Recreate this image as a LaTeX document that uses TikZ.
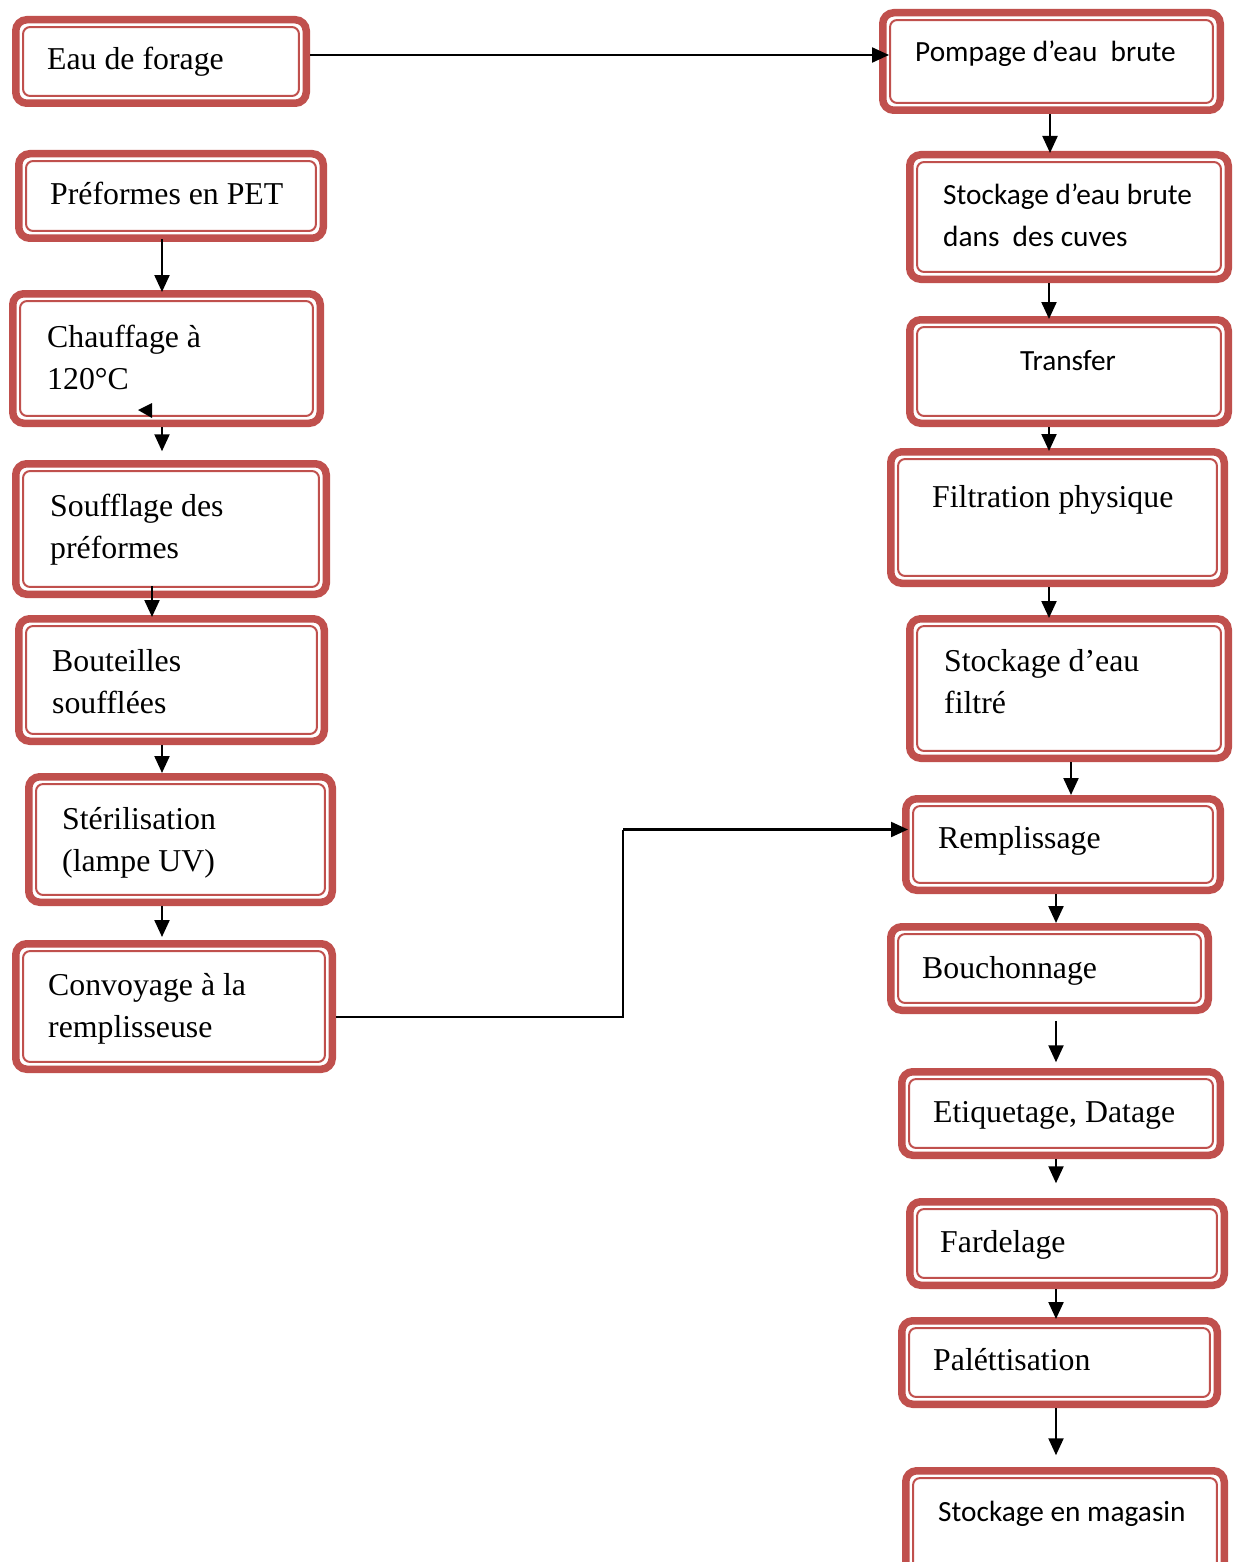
\documentclass[tikz,border=0pt]{standalone}
\usepackage{fontspec}
\setmainfont{Liberation Serif}
\newfontfamily\calfont{Carlito}
\usetikzlibrary{arrows.meta}
\definecolor{bred}{HTML}{C0504D}
\newcommand\twol[2]{\begin{tabular}[t]{@{}l@{}}#1\\#2\end{tabular}}
\newcommand\bx[5]{\node[bx, minimum width={#4pt-#2pt-7.5pt}, minimum height={#5pt-#3pt-7.5pt}] (#1) at ({(#2+#4)/2},{(#3+#5)/2}) {};}
\tikzset{
 bx/.style={draw=bred, line width=7.5pt, rounded corners=11pt, inner sep=0pt, fill=white,
   path picture={\draw[bred, line width=2pt, rounded corners=7pt]
     ([xshift=7.3pt,yshift=7.3pt]path picture bounding box.south west) rectangle
     ([xshift=-7.3pt,yshift=-7.3pt]path picture bounding box.north east);}},
 sr/.style={anchor=base west, inner sep=0pt, font=\fontsize{31.8}{42}\selectfont},
 ca/.style={anchor=base west, inner sep=0pt, font=\calfont\fontsize{29.3}{42}\selectfont},
 arr/.style={line width=2.2pt, -{Triangle[length=17pt,width=15pt]}},
}
\begin{document}
\begin{tikzpicture}[x=1pt,y=-1pt]
\useasboundingbox (0,0) rectangle (1240,1562);
\fill[white] (0,0) rectangle (1240,1562);
\clip (0,0) rectangle (1240,1562);
% left column boxes
\bx{eau}{12}{16}{310}{107}
\bx{pref}{15}{150}{327}{242}
\bx{chauf}{9}{290}{324}{427}
\bx{souf}{12}{460}{330}{598}
\bx{bout}{15}{615}{328}{745}
\bx{ster}{25}{773}{336}{906}
\bx{conv}{12}{940}{336}{1073}
% right column boxes
\bx{pomp}{879}{9}{1224}{114}
\bx{stb}{906}{151}{1232}{283}
\bx{trans}{906}{316}{1232}{427}
\bx{filt}{887}{448}{1228}{587}
\bx{stf}{906}{615}{1232}{762}
\bx{remp}{902}{795}{1224}{894}
\bx{bouch}{887}{923}{1212}{1014}
\bx{etiq}{898}{1068}{1224}{1159}
\bx{fard}{906}{1198}{1228}{1289}
\bx{pal}{898}{1317}{1221}{1408}
\bx{mag}{902}{1467}{1228}{1585}
% texts
\node[sr] (eauT) at (47,70) {Eau de forage};
\node[sr] (prefT) at (50,205) {Préformes en PET};
\node[sr] (chaufT) at (47,347) {\twol{Chauffage à}{120°C}};
\node[sr] (soufT) at (50,516) {\twol{Soufflage des}{préformes}};
\node[sr] (boutT) at (52,671) {\twol{Bouteilles}{soufflées}};
\node[sr] (sterT) at (62,829) {\twol{Stérilisation}{(lampe UV)}};
\node[sr] (convT) at (48,995) {\twol{Convoyage à la}{remplisseuse}};
\node[ca] (pompT) at (915,62) {Pompage d’eau\ \ brute};
\node[ca] (stbT) at (943,205) {\twol{Stockage d’eau brute}{dans\ \ des cuves}};
\node[ca] (transT) at (1020,370) {Transfer};
\node[sr] (filtT) at (932,507) {Filtration physique};
\node[sr] (stfT) at (944,671) {\twol{Stockage d’eau}{filtré}};
\node[sr] (rempT) at (938,848) {Remplissage};
\node[sr] (bouchT) at (922,978) {Bouchonnage};
\node[sr] (etiqT) at (933,1122) {Etiquetage, Datage};
\node[sr] (fardT) at (940,1252) {Fardelage};
\node[sr] (palT) at (933,1370) {Paléttisation};
\node[ca] (magT) at (938,1521) {Stockage en magasin};
% connectors left
\draw[arr, shorten <=-3pt, shorten >=-2pt] (162,0 |- pref.south) -- (162,0 |- chauf.north);
\draw[arr, shorten >=8.75pt] (162,0 |- chauf.south) -- (162,0 |- souf.north);
\draw[arr, shorten <=-12pt, shorten >=-2pt] (152,0 |- souf.south) -- (152,0 |- bout.north);
\draw[arr] (162,0 |- bout.south) -- (162,0 |- ster.north);
\draw[arr, shorten >=3pt] (162,0 |- ster.south) -- (162,0 |- conv.north);
\fill (138,410) -- (152,403) -- (152,418) -- cycle;
% connectors right
\draw[arr, shorten >=-10pt] ([yshift=6.5pt]eau.east) -- ([yshift=6.5pt]pomp.west);
\draw[arr, shorten >=-2pt] (1050,0 |- pomp.south) -- (1050,0 |- stb.north);
\draw[arr, shorten >=-3pt] (1049,0 |- stb.south) -- (1049,0 |- trans.north);
\draw[arr, shorten >=-3pt] (1049,0 |- trans.south) -- (1049,0 |- filt.north);
\draw[arr, shorten >=-3pt] (1049,0 |- filt.south) -- (1049,0 |- stf.north);
\draw[arr] (1071,0 |- stf.south) -- (1071,0 |- remp.north);
\draw[arr] (1056,0 |- remp.south) -- (1056,0 |- bouch.north);
\draw[arr, shorten <=6.75pt, shorten >=5.75pt] (1056,0 |- bouch.south) -- (1056,0 |- etiq.north);
\draw[arr, shorten >=14.75pt] (1056,0 |- etiq.south) -- (1056,0 |- fard.north);
\draw[arr, shorten >=-2pt] (1056,0 |- fard.south) -- (1056,0 |- pal.north);
\draw[arr, shorten >=11.75pt] (1056,0 |- pal.south) -- (1056,0 |- mag.north);
% convoyage -> remplissage
\coordinate (convout) at ([yshift=-10.5pt]conv.east);
\coordinate (rempin) at ([xshift=6pt,yshift=15pt]remp.west);
\coordinate (elbow) at (623,0);
\draw[line width=2.2pt] (convout) -- (elbow |- convout) -- (elbow |- rempin);
\draw[arr] (elbow |- rempin) -- (rempin);
\end{tikzpicture}
\end{document}
